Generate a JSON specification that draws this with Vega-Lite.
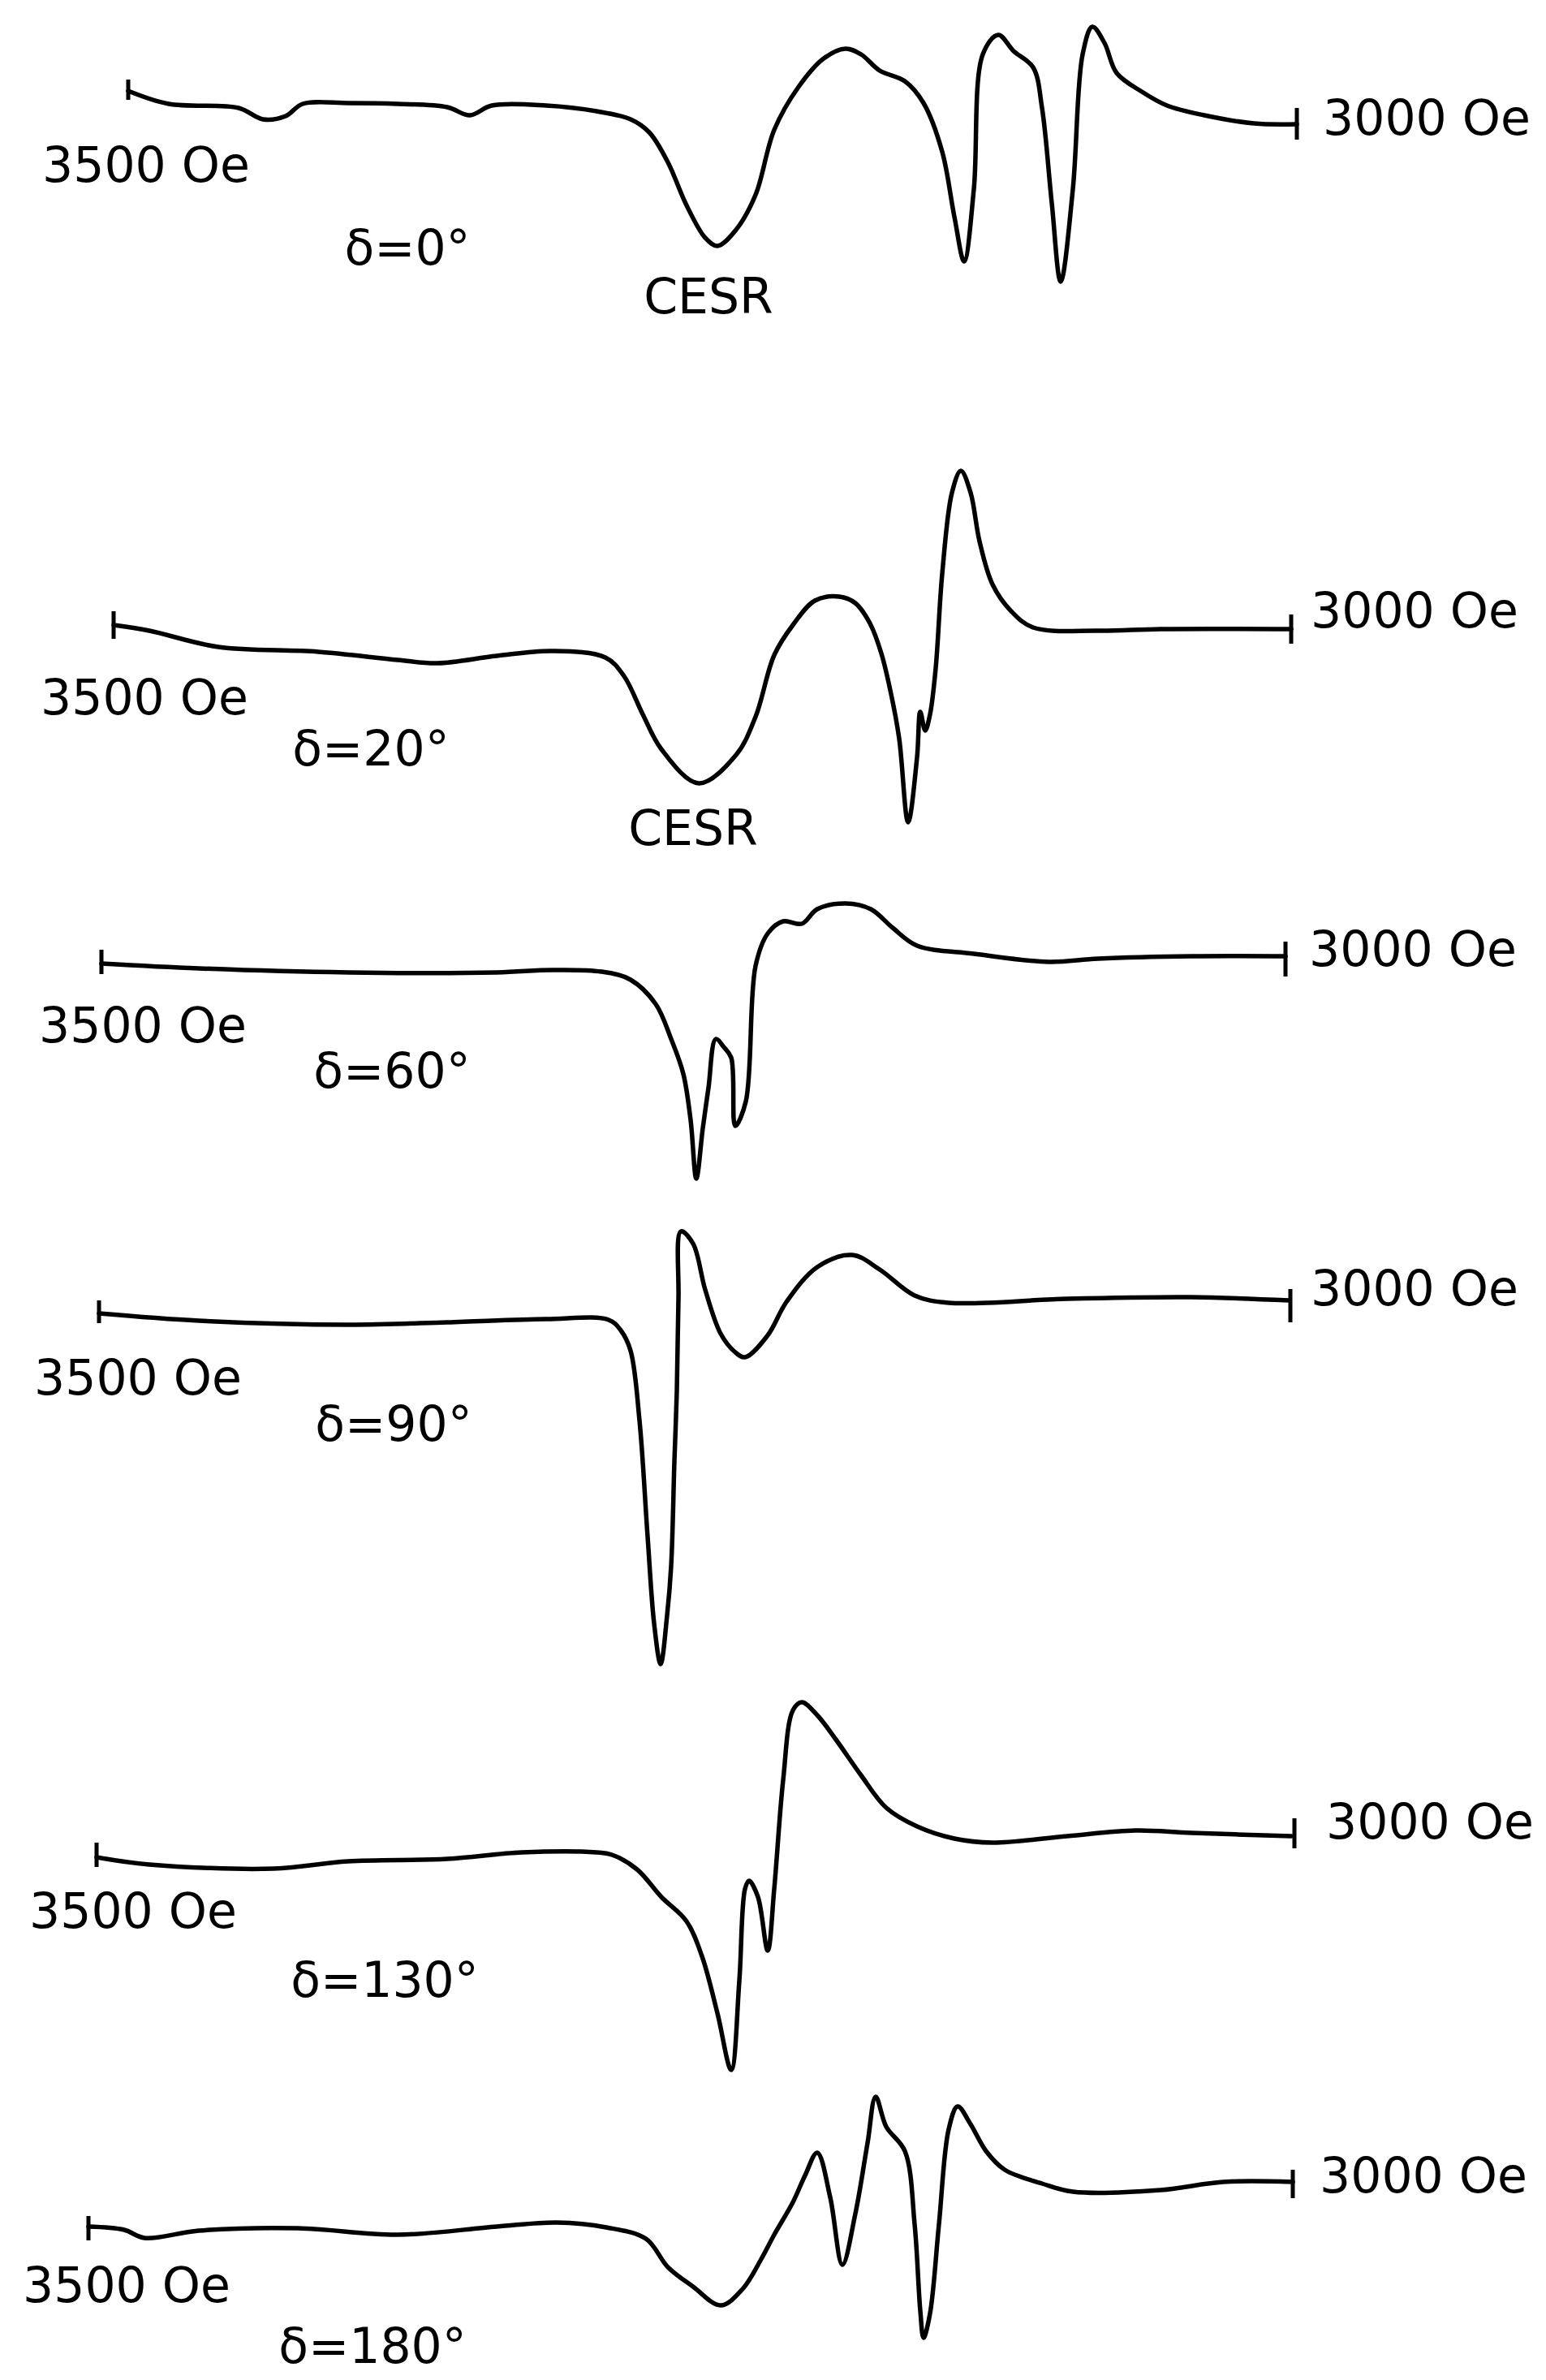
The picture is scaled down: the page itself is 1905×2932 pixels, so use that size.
{
  "$schema": "https://vega.github.io/schema/vega-lite/v6.json",
  "width": 1905,
  "height": 2932,
  "autosize": {"type": "fit", "contains": "padding"},
  "padding": 0,
  "background": "white",
  "config": {"view": {"stroke": null}},
  "datasets": {
    "traces": [
      {"delta":"0","x":158,"y":112},{"delta":"0","x":208,"y":128},{"delta":"0","x":294,"y":133},{"delta":"0","x":324,"y":147},{"delta":"0","x":352,"y":143},{"delta":"0","x":373,"y":128},{"delta":"0","x":429,"y":127},{"delta":"0","x":490,"y":128},{"delta":"0","x":551,"y":132},{"delta":"0","x":579,"y":142},{"delta":"0","x":606,"y":130},{"delta":"0","x":673,"y":130},{"delta":"0","x":735,"y":137},{"delta":"0","x":777,"y":147},{"delta":"0","x":800,"y":163},{"delta":"0","x":823,"y":200},{"delta":"0","x":846,"y":253},{"delta":"0","x":869,"y":293},{"delta":"0","x":884,"y":303},{"delta":"0","x":907,"y":283},{"delta":"0","x":931,"y":240},{"delta":"0","x":954,"y":160},{"delta":"0","x":984,"y":107},{"delta":"0","x":1015,"y":72},{"delta":"0","x":1042,"y":60},{"delta":"0","x":1061,"y":67},{"delta":"0","x":1084,"y":87},{"delta":"0","x":1115,"y":100},{"delta":"0","x":1138,"y":127},{"delta":"0","x":1161,"y":187},{"delta":"0","x":1176,"y":267},{"delta":"0","x":1188,"y":322},{"delta":"0","x":1200,"y":233},{"delta":"0","x":1211,"y":67},{"delta":"0","x":1230,"y":43},{"delta":"0","x":1249,"y":63},{"delta":"0","x":1273,"y":83},{"delta":"0","x":1284,"y":133},{"delta":"0","x":1296,"y":250},{"delta":"0","x":1307,"y":347},{"delta":"0","x":1322,"y":233},{"delta":"0","x":1334,"y":67},{"delta":"0","x":1346,"y":33},{"delta":"0","x":1361,"y":53},{"delta":"0","x":1376,"y":90},{"delta":"0","x":1407,"y":113},{"delta":"0","x":1438,"y":130},{"delta":"0","x":1484,"y":142},{"delta":"0","x":1545,"y":152},{"delta":"0","x":1598,"y":153},
      {"delta":"20","x":140,"y":770},{"delta":"20","x":184,"y":777},{"delta":"20","x":269,"y":797},{"delta":"20","x":392,"y":803},{"delta":"20","x":490,"y":813},{"delta":"20","x":539,"y":817},{"delta":"20","x":612,"y":808},{"delta":"20","x":680,"y":802},{"delta":"20","x":746,"y":810},{"delta":"20","x":769,"y":833},{"delta":"20","x":792,"y":880},{"delta":"20","x":815,"y":923},{"delta":"20","x":861,"y":965},{"delta":"20","x":907,"y":930},{"delta":"20","x":931,"y":883},{"delta":"20","x":954,"y":807},{"delta":"20","x":977,"y":770},{"delta":"20","x":1004,"y":740},{"delta":"20","x":1034,"y":735},{"delta":"20","x":1054,"y":743},{"delta":"20","x":1072,"y":768},{"delta":"20","x":1086,"y":805},{"delta":"20","x":1098,"y":855},{"delta":"20","x":1108,"y":910},{"delta":"20","x":1119,"y":1013},{"delta":"20","x":1130,"y":933},{"delta":"20","x":1134,"y":877},{"delta":"20","x":1140,"y":900},{"delta":"20","x":1146,"y":880},{"delta":"20","x":1153,"y":823},{"delta":"20","x":1161,"y":707},{"delta":"20","x":1173,"y":607},{"delta":"20","x":1184,"y":580},{"delta":"20","x":1196,"y":607},{"delta":"20","x":1207,"y":667},{"delta":"20","x":1223,"y":720},{"delta":"20","x":1246,"y":753},{"delta":"20","x":1273,"y":773},{"delta":"20","x":1353,"y":777},{"delta":"20","x":1430,"y":775},{"delta":"20","x":1591,"y":775},
      {"delta":"60","x":125,"y":1187},{"delta":"60","x":245,"y":1193},{"delta":"60","x":429,"y":1198},{"delta":"60","x":612,"y":1198},{"delta":"60","x":680,"y":1195},{"delta":"60","x":741,"y":1197},{"delta":"60","x":777,"y":1207},{"delta":"60","x":808,"y":1237},{"delta":"60","x":827,"y":1280},{"delta":"60","x":842,"y":1323},{"delta":"60","x":851,"y":1380},{"delta":"60","x":858,"y":1452},{"delta":"60","x":866,"y":1390},{"delta":"60","x":873,"y":1340},{"delta":"60","x":882,"y":1280},{"delta":"60","x":892,"y":1290},{"delta":"60","x":901,"y":1303},{"delta":"60","x":906,"y":1387},{"delta":"60","x":919,"y":1357},{"delta":"60","x":931,"y":1190},{"delta":"60","x":946,"y":1150},{"delta":"60","x":965,"y":1135},{"delta":"60","x":988,"y":1138},{"delta":"60","x":1007,"y":1120},{"delta":"60","x":1042,"y":1113},{"delta":"60","x":1073,"y":1120},{"delta":"60","x":1100,"y":1143},{"delta":"60","x":1130,"y":1165},{"delta":"60","x":1200,"y":1175},{"delta":"60","x":1292,"y":1185},{"delta":"60","x":1353,"y":1181},{"delta":"60","x":1468,"y":1178},{"delta":"60","x":1584,"y":1178},
      {"delta":"90","x":122,"y":1618},{"delta":"90","x":245,"y":1627},{"delta":"90","x":429,"y":1632},{"delta":"90","x":551,"y":1629},{"delta":"90","x":673,"y":1625},{"delta":"90","x":750,"y":1626},{"delta":"90","x":765,"y":1639},{"delta":"90","x":777,"y":1664},{"delta":"90","x":788,"y":1750},{"delta":"90","x":798,"y":1893},{"delta":"90","x":806,"y":2000},{"delta":"90","x":814,"y":2050},{"delta":"90","x":822,"y":1990},{"delta":"90","x":827,"y":1929},{"delta":"90","x":831,"y":1800},{"delta":"90","x":834,"y":1714},{"delta":"90","x":836,"y":1600},{"delta":"90","x":839,"y":1517},{"delta":"90","x":854,"y":1532},{"delta":"90","x":869,"y":1589},{"delta":"90","x":888,"y":1643},{"delta":"90","x":905,"y":1665},{"delta":"90","x":918,"y":1672},{"delta":"90","x":946,"y":1645},{"delta":"90","x":969,"y":1604},{"delta":"90","x":1007,"y":1561},{"delta":"90","x":1050,"y":1546},{"delta":"90","x":1084,"y":1564},{"delta":"90","x":1127,"y":1596},{"delta":"90","x":1169,"y":1605},{"delta":"90","x":1315,"y":1600},{"delta":"90","x":1468,"y":1598},{"delta":"90","x":1588,"y":1602},
      {"delta":"130","x":119,"y":2288},{"delta":"130","x":184,"y":2297},{"delta":"130","x":337,"y":2302},{"delta":"130","x":429,"y":2293},{"delta":"130","x":551,"y":2290},{"delta":"130","x":643,"y":2282},{"delta":"130","x":735,"y":2282},{"delta":"130","x":754,"y":2285},{"delta":"130","x":785,"y":2303},{"delta":"130","x":815,"y":2337},{"delta":"130","x":846,"y":2367},{"delta":"130","x":865,"y":2410},{"delta":"130","x":884,"y":2480},{"delta":"130","x":901,"y":2550},{"delta":"130","x":911,"y":2440},{"delta":"130","x":918,"y":2327},{"delta":"130","x":923,"y":2317},{"delta":"130","x":934,"y":2337},{"delta":"130","x":946,"y":2403},{"delta":"130","x":954,"y":2327},{"delta":"130","x":965,"y":2193},{"delta":"130","x":977,"y":2107},{"delta":"130","x":988,"y":2097},{"delta":"130","x":1007,"y":2113},{"delta":"130","x":1030,"y":2143},{"delta":"130","x":1061,"y":2187},{"delta":"130","x":1092,"y":2227},{"delta":"130","x":1130,"y":2250},{"delta":"130","x":1176,"y":2265},{"delta":"130","x":1223,"y":2270},{"delta":"130","x":1315,"y":2262},{"delta":"130","x":1399,"y":2255},{"delta":"130","x":1468,"y":2258},{"delta":"130","x":1591,"y":2262},
      {"delta":"180","x":109,"y":2743},{"delta":"180","x":153,"y":2747},{"delta":"180","x":178,"y":2757},{"delta":"180","x":245,"y":2748},{"delta":"180","x":367,"y":2745},{"delta":"180","x":490,"y":2753},{"delta":"180","x":612,"y":2743},{"delta":"180","x":686,"y":2738},{"delta":"180","x":747,"y":2744},{"delta":"180","x":796,"y":2758},{"delta":"180","x":823,"y":2793},{"delta":"180","x":854,"y":2817},{"delta":"180","x":888,"y":2840},{"delta":"180","x":915,"y":2820},{"delta":"180","x":938,"y":2783},{"delta":"180","x":954,"y":2753},{"delta":"180","x":977,"y":2713},{"delta":"180","x":992,"y":2680},{"delta":"180","x":1007,"y":2652},{"delta":"180","x":1023,"y":2707},{"delta":"180","x":1038,"y":2790},{"delta":"180","x":1054,"y":2727},{"delta":"180","x":1069,"y":2640},{"delta":"180","x":1079,"y":2583},{"delta":"180","x":1092,"y":2620},{"delta":"180","x":1115,"y":2650},{"delta":"180","x":1127,"y":2740},{"delta":"180","x":1134,"y":2847},{"delta":"180","x":1138,"y":2880},{"delta":"180","x":1146,"y":2850},{"delta":"180","x":1157,"y":2740},{"delta":"180","x":1169,"y":2623},{"delta":"180","x":1180,"y":2595},{"delta":"180","x":1196,"y":2617},{"delta":"180","x":1215,"y":2650},{"delta":"180","x":1238,"y":2673},{"delta":"180","x":1284,"y":2690},{"delta":"180","x":1322,"y":2700},{"delta":"180","x":1430,"y":2698},{"delta":"180","x":1507,"y":2688},{"delta":"180","x":1593,"y":2688}
    ],
    "ticks": [
      {"delta":"0","x":158,"y1":98,"y2":123},{"delta":"0","x":1598,"y1":133,"y2":172},
      {"delta":"20","x":140,"y1":753,"y2":787},{"delta":"20","x":1591,"y1":757,"y2":793},
      {"delta":"60","x":125,"y1":1170,"y2":1200},{"delta":"60","x":1584,"y1":1160,"y2":1203},
      {"delta":"90","x":122,"y1":1602,"y2":1630},{"delta":"90","x":1590,"y1":1588,"y2":1629},
      {"delta":"130","x":119,"y1":2270,"y2":2300},{"delta":"130","x":1595,"y1":2240,"y2":2277},
      {"delta":"180","x":109,"y1":2730,"y2":2760},{"delta":"180","x":1593,"y1":2673,"y2":2708}
    ],
    "labels": [
      {"label":"3500 Oe","x":180,"y":206},{"label":"3000 Oe","x":1758,"y":148},{"label":"δ=0°","x":502,"y":308},{"label":"CESR","x":873,"y":368},
      {"label":"3500 Oe","x":178,"y":862},{"label":"3000 Oe","x":1743,"y":755},{"label":"δ=20°","x":457,"y":925},{"label":"CESR","x":854,"y":1023},
      {"label":"3500 Oe","x":176,"y":1266},{"label":"3000 Oe","x":1741,"y":1172},{"label":"δ=60°","x":483,"y":1322},
      {"label":"3500 Oe","x":170,"y":1700},{"label":"3000 Oe","x":1743,"y":1590},{"label":"δ=90°","x":485,"y":1757},
      {"label":"3500 Oe","x":164,"y":2357},{"label":"3000 Oe","x":1762,"y":2247},{"label":"δ=130°","x":474,"y":2442},
      {"label":"3500 Oe","x":156,"y":2818},{"label":"3000 Oe","x":1754,"y":2683},{"label":"δ=180°","x":459,"y":2893}
    ]
  },
  "encoding": {
    "x": {"field": "x", "type": "quantitative", "scale": {"domain": [0, 1905], "nice": false, "zero": false}, "axis": null},
    "y": {"field": "y", "type": "quantitative", "scale": {"domain": [0, 2932], "nice": false, "zero": false, "reverse": true}, "axis": null}
  },
  "layer": [
    {
      "data": {"name": "traces"},
      "mark": {"type": "line", "interpolate": "catmull-rom", "strokeWidth": 5.5, "color": "black", "strokeJoin": "round", "strokeCap": "round"},
      "encoding": {"detail": {"field": "delta", "type": "nominal"}}
    },
    {
      "data": {"name": "ticks"},
      "mark": {"type": "rule", "strokeWidth": 5, "color": "black"},
      "encoding": {
        "y": {"field": "y1", "type": "quantitative"},
        "y2": {"field": "y2"}
      }
    },
    {
      "data": {"name": "labels"},
      "mark": {"type": "text", "font": "DejaVu Sans", "fontSize": 60, "color": "black", "align": "center", "baseline": "middle"},
      "encoding": {"text": {"field": "label", "type": "nominal"}}
    }
  ]
}
